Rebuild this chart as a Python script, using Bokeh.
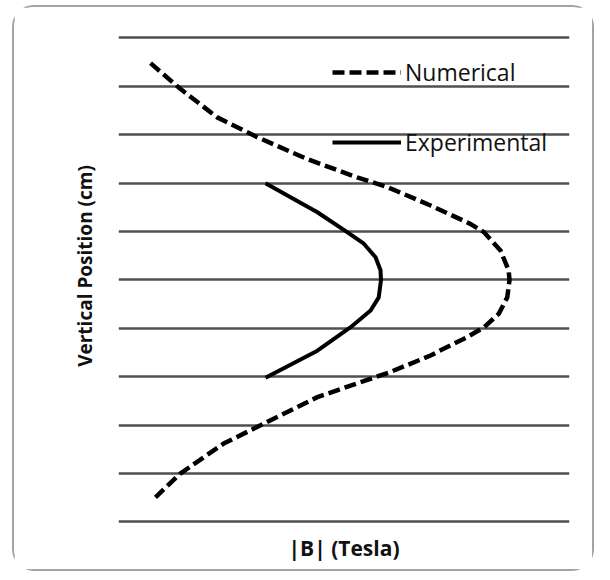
from bokeh.plotting import figure
from bokeh.models import Range1d, FixedTicker, Legend, LegendItem
from bokeh.embed import file_html
from bokeh.resources import INLINE

# Field profile along the vertical axis (|B| in normalised units, position in cm)
num_b = [0.071, 0.137, 0.219, 0.308, 0.418, 0.529, 0.596, 0.692, 0.780, 0.810,
         0.847, 0.865, 0.867, 0.862, 0.843, 0.810, 0.773, 0.721, 0.692, 0.603,
         0.537, 0.441, 0.322, 0.233, 0.137, 0.082]
num_pos = [4.48, 3.95, 3.36, 2.95, 2.50, 2.12, 1.92, 1.54, 1.16, 0.99,
           0.61, 0.20, 0.0, -0.36, -0.70, -0.98, -1.18, -1.42, -1.56, -1.90,
           -2.11, -2.42, -2.97, -3.38, -4.0, -4.49]

exp_b = [0.326, 0.441, 0.507, 0.544, 0.570, 0.581, 0.582, 0.577, 0.559, 0.514,
         0.441, 0.326]
exp_pos = [2.0, 1.40, 0.99, 0.75, 0.47, 0.20, 0.0, -0.36, -0.63, -0.98,
           -1.46, -2.02]

grid_pos = [-5, -4, -3, -2, -1, 0, 1, 2, 3, 4, 5]

FONT = "Open Sans"

p = figure(width=582, height=566, output_backend="svg", toolbar_location=None,
           x_range=Range1d(0, 1), y_range=Range1d(-5.052, 5.630),
           min_border_left=104, min_border_right=27,
           min_border_top=0, min_border_bottom=49)

p.styles = {"margin-left": "12px", "margin-top": "5px",
            "border": "2px solid #a3a3a3", "border-radius": "22px"}

p.outline_line_color = None
p.background_fill_color = "white"
p.border_fill_color = "white"

# horizontal rules only
p.xgrid.visible = False
p.ygrid.ticker = FixedTicker(ticks=grid_pos)
p.ygrid.grid_line_color = "#505050"
p.ygrid.grid_line_width = 2.5

for ax in (p.xaxis, p.yaxis):
    ax.ticker = FixedTicker(ticks=[])
    ax.axis_line_color = None
    ax.major_tick_out = 0
    ax.major_tick_in = 0
    ax.minor_tick_out = 0
    ax.minor_tick_in = 0
    ax.major_label_text_font_size = "0px"
    ax.axis_label_text_font = FONT
    ax.axis_label_text_font_style = "bold"
    ax.axis_label_text_color = "#111111"

p.xaxis.axis_label = "|B| (Tesla)"
p.yaxis.axis_label = "Vertical Position (cm)"
p.xaxis.axis_label_text_font_size = "21px"
p.yaxis.axis_label_text_font_size = "19px"
p.xaxis.axis_label_standoff = 9
p.yaxis.axis_label_standoff = 21

r_num = p.line(num_b, num_pos, line_color="black", line_width=4.5,
               line_dash="12 5", line_cap="butt", line_join="round")
r_exp = p.line(exp_b, exp_pos, line_color="black", line_width=4,
               line_join="round")

legend = Legend(items=[LegendItem(label="Numerical", renderers=[r_num]),
                       LegendItem(label="Experimental", renderers=[r_exp])],
                location=(214, 366))
legend.background_fill_alpha = 0
legend.border_line_color = None
legend.padding = 0
legend.margin = 0
legend.glyph_width = 69
legend.glyph_height = 30
legend.label_height = 30
legend.spacing = 38
legend.label_standoff = 4
legend.label_text_font = FONT
legend.label_text_font_size = "23px"
legend.label_text_color = "#111111"
p.add_layout(legend, "center")

open("out.html", "w").write(file_html(p, INLINE))
